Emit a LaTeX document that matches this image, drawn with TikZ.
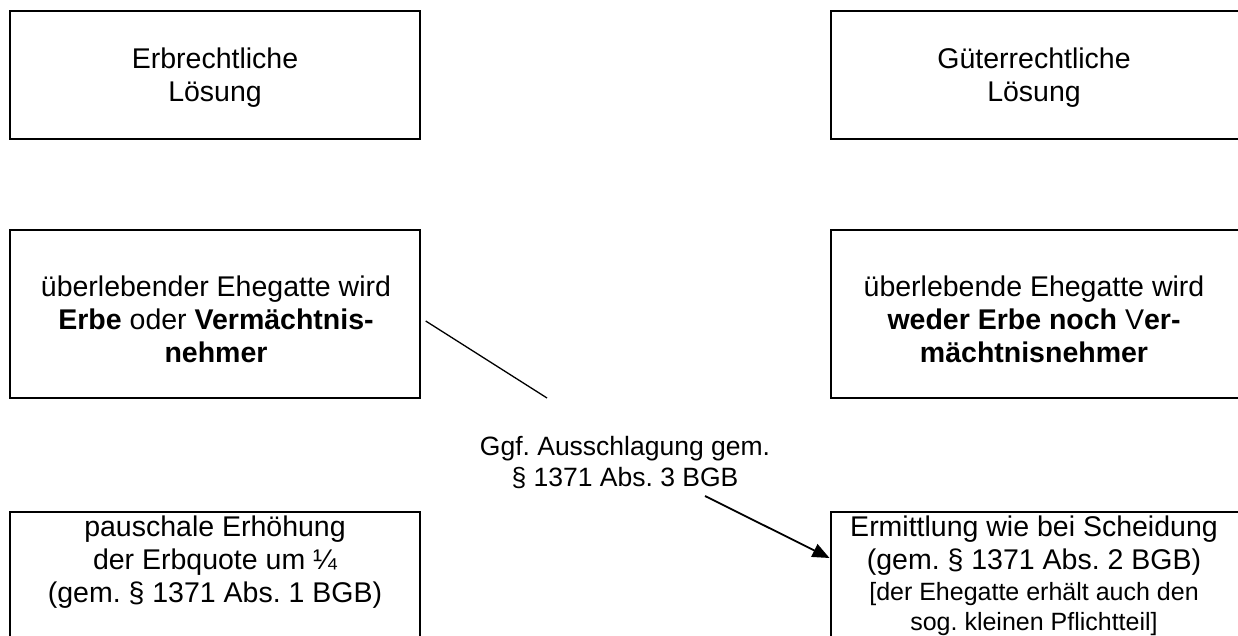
\documentclass[tikz,border=0pt]{standalone}
\usepackage{fontspec}
\setmainfont{Liberation Sans}
\usetikzlibrary{arrows.meta}
\frenchspacing
\tikzset{
	box/.style={draw, line width=2pt, inner sep=0pt, minimum width=410pt},
	txt/.style={align=center, anchor=base, inner sep=0pt, font=\fontsize{28.5}{33}\selectfont},
	verbindung/.style={line width=1.3pt},
	pfeil/.style={line width=1.8pt, -{Triangle[length=17pt,width=14pt]}}
}
\begin{document}
\begin{tikzpicture}[x=1pt,y=-1pt]
	\useasboundingbox (0,0) rectangle (1238,636);
	% Kaesten
	\node[box, minimum height=128pt] (erb) at (214.7,75.2) {};
	\node[box, minimum height=128pt] (gue) at (1035.5,75.2) {};
	\node[box, minimum height=168pt] (erbe) at (214.7,314.2) {};
	\node[box, minimum height=168pt] (weder) at (1035.5,314.2) {};
	\node[box, minimum height=140pt] (quote) at (214.7,582) {};
	\node[box, minimum height=140pt] (ermitt) at (1035.5,582) {};
	% Texte (Position = Grundlinie der letzten Zeile)
	\node[txt] (erbtext) at (215,102) {Erbrechtliche\\Lösung};
	\node[txt] (guetext) at (1034,102) {Güterrechtliche\\Lösung};
	\node[txt] (erbetext) at (216,362) {überlebender Ehegatte wird\\\textbf{Erbe} oder \textbf{Vermächtnis-}\\\textbf{nehmer}};
	\node[txt] (wedertext) at (1034,362) {überlebende Ehegatte wird\\\textbf{weder Erbe noch} V\textbf{er-}\\\textbf{mächtnisnehmer}};
	\node[txt] (quotetext) at (215,602) {pauschale Erhöhung\\der Erbquote um ¼\\(gem. § 1371 Abs. 1 BGB)};
	\node[txt] (ermitttext) at (1034,630) {Ermittlung wie bei Scheidung\\(gem. § 1371 Abs. 2 BGB)\\[-2pt]{\fontsize{25}{31}\selectfont [der Ehegatte erhält auch den}\\[-3pt]{\fontsize{25}{31}\selectfont sog. kleinen Pflichtteil]}};
	\node[txt, font=\fontsize{26.5}{31}\selectfont] (ausschl) at (625,486) {Ggf. Ausschlagung gem.\\§ 1371 Abs. 3 BGB};
	% Verbindungen
	\coordinate (linienende) at (547,398);
	\coordinate (pfeilanfang) at (705,496);
	\draw[verbindung] (erbe.east |- 0,321) ++(5,0) -- (linienende);
	\draw[pfeil] (pfeilanfang) -- (ermitt.west |- 0,558);
\end{tikzpicture}
\end{document}
